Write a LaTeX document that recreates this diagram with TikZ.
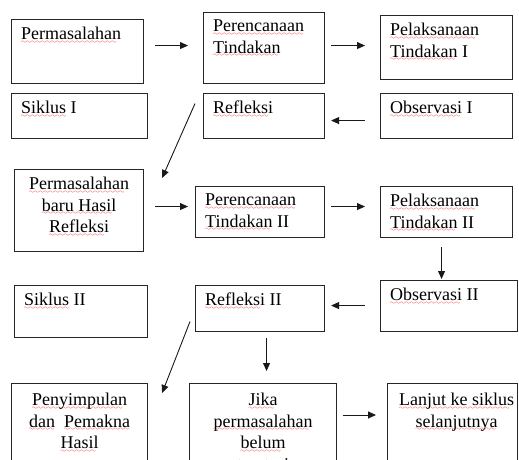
\documentclass[tikz,border=0pt]{standalone}
\usepackage{fontspec}
\setmainfont{Liberation Serif}
\usetikzlibrary{arrows.meta,calc}
\font\wavefont=lasy6
\newcommand{\sq}[1]{\setbox0\hbox{#1}\rlap{\color{red}\lower3.5pt\hbox to\wd0{\leaders\hbox{\wavefont\char58}\hfill}}\box0\relax}

\begin{document}
\begin{tikzpicture}[x=1pt,y=-1pt,
  box/.style={draw=black!85,line width=1.1pt,inner sep=0pt,anchor=north west},
  lbl/.style={anchor=north west,inner xsep=10pt,inner ysep=8pt,align=left,font=\fontsize{18}{21.5}\selectfont},
  mid/.style={lbl,anchor=north,align=center},
  arr/.style={-{Triangle[length=8pt,width=7pt]},line width=0.9pt,black!90}]
\useasboundingbox (0,0) rectangle (519,460);
\clip (0,0) rectangle (519,460);
\node[box,minimum width=132pt,minimum height=64pt,label={[lbl]north west:\sq{Permasalahan}}] (perm) at (11,19) {};
\node[box,minimum width=121pt,minimum height=71pt,label={[lbl]north west:\sq{Perencanaan}\\\sq{Tindakan}}] (renc1) at (203,12) {};
\node[box,minimum width=132pt,minimum height=64pt,label={[lbl]north west:\sq{Pelaksanaan}\\\sq{Tindakan} I}] (laks1) at (380,15) {};
\node[box,minimum width=136pt,minimum height=45pt,label={[lbl]north west:\sq{Siklus} I}] (sik1) at (11,93) {};
\node[box,minimum width=121pt,minimum height=45pt,label={[lbl]north west:\sq{Refleksi}}] (ref1) at (203,93) {};
\node[box,minimum width=132pt,minimum height=45pt,label={[lbl]north west:\sq{Observasi} I}] (obs1) at (380,93) {};
\node[box,minimum width=129pt,minimum height=82pt,label={[mid]north:\sq{Permasalahan}\\\sq{baru Hasil}\\\sq{Refleksi}}] (baru) at (14,169) {};
\node[box,minimum width=129pt,minimum height=51pt,label={[lbl]north west:\sq{Perencanaan}\\\sq{Tindakan} II}] (renc2) at (195,186) {};
\node[box,minimum width=132pt,minimum height=51pt,label={[lbl]north west:\sq{Pelaksanaan}\\\sq{Tindakan} II}] (laks2) at (380,186) {};
\node[box,minimum width=133pt,minimum height=52pt,label={[lbl]north west:\sq{Siklus} II}] (sik2) at (14,285) {};
\node[box,minimum width=129pt,minimum height=46pt,label={[lbl]north west:\sq{Refleksi} II}] (ref2) at (195,285) {};
\node[box,minimum width=137pt,minimum height=51pt,label={[lbl]north west:\sq{Observasi} II}] (obs2) at (380,280) {};
\node[box,minimum width=136pt,minimum height=110pt,label={[mid,inner ysep=10pt]north:\sq{Penyimpulan}\\\sq{dan}\ \ \sq{Pemakna}\\\sq{Hasil}}] (simp) at (11,383) {};
\node[box,minimum width=147pt,minimum height=110pt,label={[mid,inner ysep=10pt]north:\sq{Jika}\\\sq{permasalahan}\\\sq{belum}\\\sq{teratasi}}] (jika) at (189,383) {};
\node[box,minimum width=130pt,minimum height=110pt,label={[mid,inner ysep=10pt,xshift=4pt]north:\sq{Lanjut ke siklus}\\\sq{selanjutnya}}] (lanjut) at (387,383) {};
\draw[arr] ($(perm.east)+(11,-6)$) -- ($(renc1.west)+(-15,-2.5)$);
\draw[arr] ($(renc1.east)+(6,-2.5)$) -- ($(laks1.west)+(-15,-2)$);
\draw[arr] ($(obs1.west)+(-15,4.5)$) -- ($(ref1.east)+(6,4.5)$);
\draw[arr] ($(ref1.west)+(-8,-12.5)$) -- ($(baru.north east)+(18,9)$);
\draw[arr] ($(baru.east)+(11,-4)$) -- ($(renc2.west)+(-7,-5.5)$);
\draw[arr] ($(renc2.east)+(6,-5.5)$) -- ($(laks2.west)+(-15,-5.5)$);
\draw[arr] ($(laks2.south)+(-5,9)$) -- ($(obs2.north)+(-7.5,-1)$);
\draw[arr] ($(obs2.west)+(-15,-0.5)$) -- ($(ref2.east)+(6,-3)$);
\draw[arr] ($(ref2.west)+(-5,13)$) -- ($(simp.north east)+(14,10)$);
\draw[arr] ($(ref2.south)+(6.5,6)$) -- ($(jika.north)+(3.5,-12)$);
\draw[arr] ($(jika.north east)+(6,32)$) -- ($(lanjut.north west)+(-11,32)$);
\end{tikzpicture}
\end{document}
